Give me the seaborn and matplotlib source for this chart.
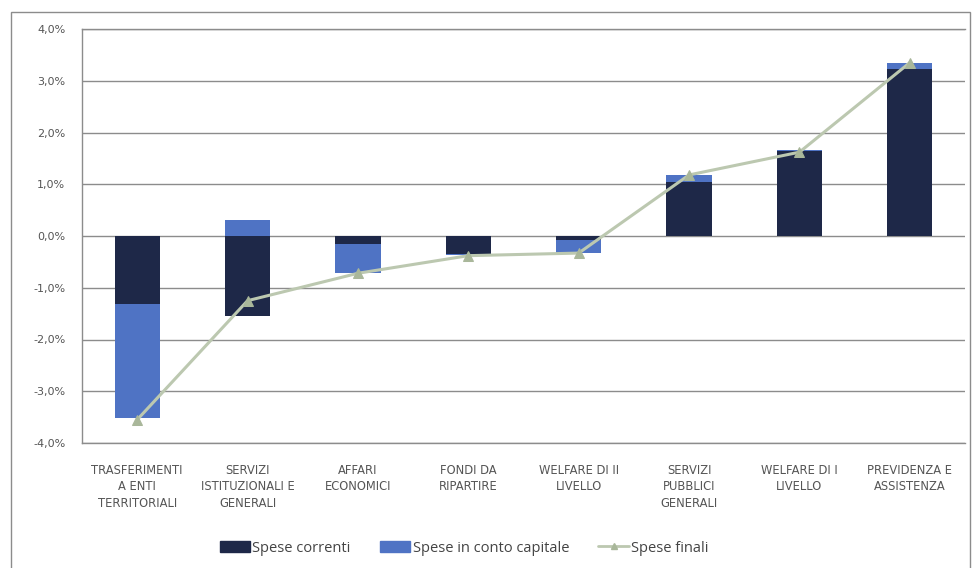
import matplotlib
matplotlib.use("Agg")
import matplotlib.pyplot as plt
import matplotlib.patches as mpatches
from matplotlib.lines import Line2D
from matplotlib.ticker import FuncFormatter, MultipleLocator
import seaborn as sns
import pandas as pd
import numpy as np

categories = [
    "TRASFERIMENTI\nA ENTI\nTERRITORIALI",
    "SERVIZI\nISTITUZIONALI E\nGENERALI",
    "AFFARI\nECONOMICI",
    "FONDI DA\nRIPARTIRE",
    "WELFARE DI II\nLIVELLO",
    "SERVIZI\nPUBBLICI\nGENERALI",
    "WELFARE DI I\nLIVELLO",
    "PREVIDENZA E\nASSISTENZA",
]
spese_correnti = [-1.32, -1.55, -0.16, -0.35, -0.07, 1.05, 1.65, 3.22]
spese_capitale = [-2.20, 0.31, -0.55, -0.02, -0.25, 0.13, 0.02, 0.12]
spese_finali = [-3.55, -1.25, -0.72, -0.38, -0.33, 1.18, 1.62, 3.35]

c_corr = "#1E2848"
c_cap = "#4F73C4"
c_fin = "#BCC8B0"
c_mark = "#A9B79A"
c_grid = "#8C8C8C"

sns.set_theme(style="white")
plt.rcParams["font.family"] = ["DejaVu Sans"]

fig = plt.figure(figsize=(9.74, 5.68), dpi=100)
ax = fig.add_axes([82 / 974, 1 - 443 / 568, (965 - 82) / 974, (443 - 29) / 568])

df = pd.DataFrame({"cat": categories, "corr": spese_correnti,
                   "cap": spese_capitale, "fin": spese_finali})
x = np.arange(len(categories))

sns.barplot(data=df, x="cat", y="corr", color=c_corr, width=0.41,
            saturation=1, ax=ax, zorder=3, linewidth=0)

# capital spending stacks on current spending when signs agree, otherwise from zero
bottoms = [c if np.sign(c) == np.sign(k) else 0.0
           for c, k in zip(spese_correnti, spese_capitale)]
ax.bar(x, spese_capitale, bottom=bottoms, width=0.41, color=c_cap,
       linewidth=0, zorder=3)

sns.lineplot(x=x, y=spese_finali, ax=ax, color=c_fin, lw=2.2,
             marker="^", markersize=7, markerfacecolor=c_mark,
             markeredgecolor=c_mark, zorder=4)

ax.set_ylim(-4, 4)
ax.set_xlim(-0.5, len(categories) - 0.5)
ax.yaxis.set_major_locator(MultipleLocator(1))
ax.yaxis.set_major_formatter(FuncFormatter(lambda v, p: f"{v:.1f}%".replace(".", ",")))
ax.grid(axis="y", color=c_grid, lw=1, zorder=0)
ax.set_axisbelow(True)
ax.spines["right"].set_visible(False)
for s in ["left", "top", "bottom"]:
    ax.spines[s].set_color(c_grid)
    ax.spines[s].set_linewidth(1)
ax.set_xlabel("")
ax.set_ylabel("")
ax.tick_params(axis="y", length=0, pad=12, labelsize=8, labelcolor="#555555")
ax.tick_params(axis="x", length=0, pad=15, labelsize=8.3, labelcolor="#555555")
for lbl in ax.get_xticklabels():
    lbl.set_linespacing(1.35)
    lbl.set_va("top")

# chart frame
fig.patches.append(mpatches.Rectangle((11 / 974, -0.01), 959 / 974, (568 - 12) / 568 + 0.01,
                                      transform=fig.transFigure, fill=False,
                                      edgecolor=c_grid, lw=1))

handles = [
    mpatches.Patch(color=c_corr, label="Spese correnti"),
    mpatches.Patch(color=c_cap, label="Spese in conto capitale"),
    Line2D([0], [0], color=c_fin, lw=2, marker="^", markersize=5,
           markerfacecolor=c_mark, markeredgecolor=c_mark, label="Spese finali"),
]
fig.legend(handles=handles, loc="center", bbox_to_anchor=(464 / 974, 1 - 548 / 568),
           ncol=3, frameon=False, handlelength=2.1, handleheight=0.8,
           handletextpad=0.15, columnspacing=2.0, labelcolor="#444444",
           prop={"family": "Open Sans", "size": 10.5})

fig.savefig("out.png", dpi=100)
